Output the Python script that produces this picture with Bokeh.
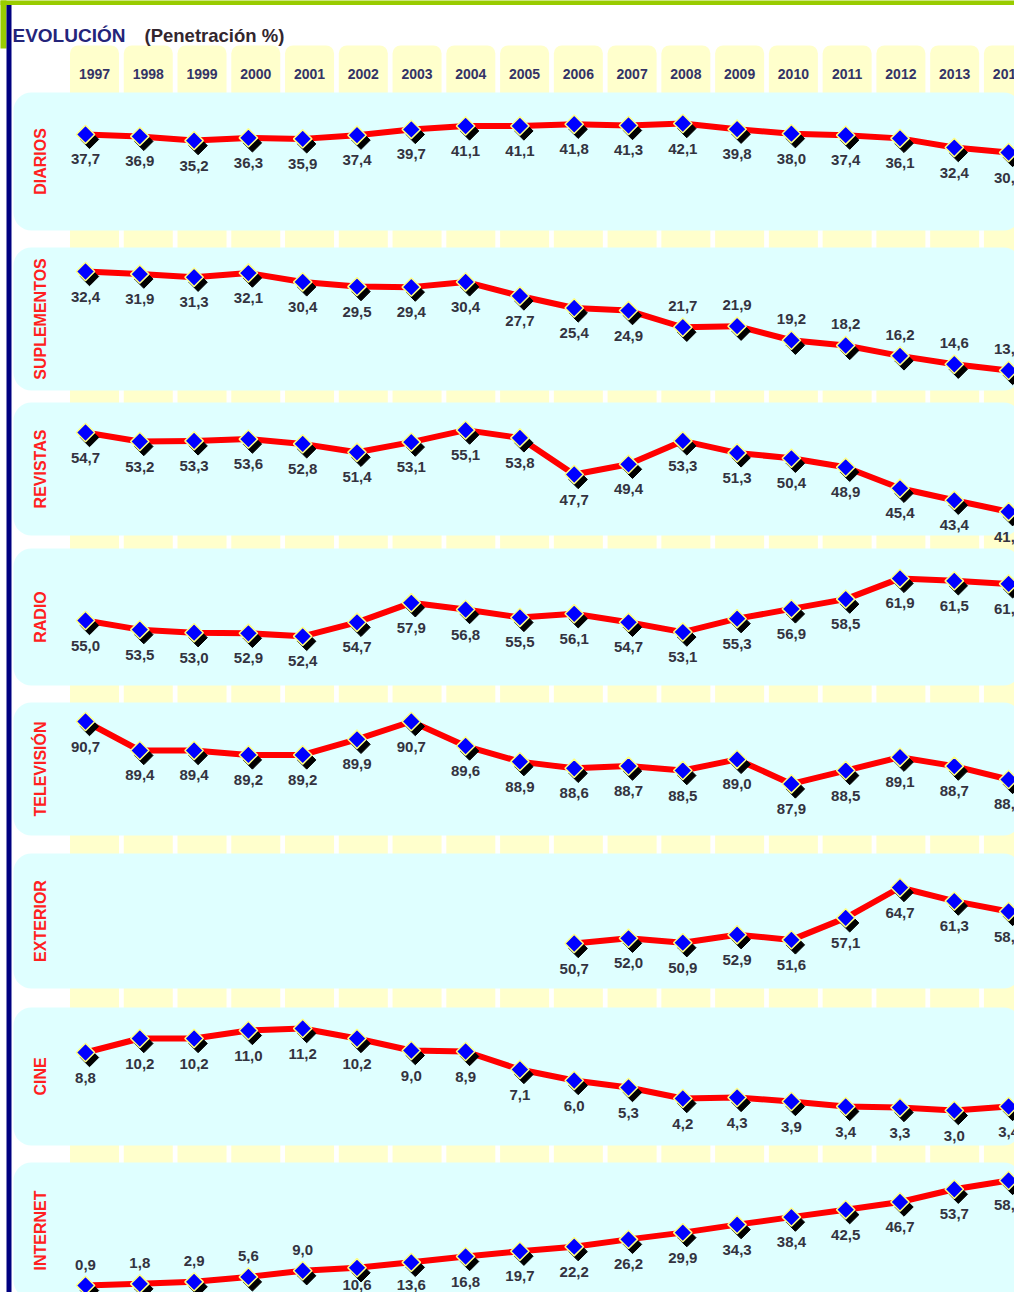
import math
from bokeh.plotting import figure
from bokeh.models import Range1d, BoxAnnotation, ColumnDataSource
from bokeh.core.properties import value
from bokeh.transform import dodge
from bokeh.embed import file_html
from bokeh.resources import INLINE

# ---------------- data ----------------
years = list(range(1997, 2015))
year_labels = [str(y) for y in years]

categories = ["DIARIOS", "SUPLEMENTOS", "REVISTAS", "RADIO",
              "TELEVISIÓN", "EXTERIOR", "CINE", "INTERNET"]

diarios = [37.7, 36.9, 35.2, 36.3, 35.9, 37.4, 39.7, 41.1, 41.1, 41.8, 41.3, 42.1, 39.8, 38.0, 37.4, 36.1, 32.4, 30.4]
suplementos = [32.4, 31.9, 31.3, 32.1, 30.4, 29.5, 29.4, 30.4, 27.7, 25.4, 24.9, 21.7, 21.9, 19.2, 18.2, 16.2, 14.6, 13.4]
revistas = [54.7, 53.2, 53.3, 53.6, 52.8, 51.4, 53.1, 55.1, 53.8, 47.7, 49.4, 53.3, 51.3, 50.4, 48.9, 45.4, 43.4, 41.5]
radio = [55.0, 53.5, 53.0, 52.9, 52.4, 54.7, 57.9, 56.8, 55.5, 56.1, 54.7, 53.1, 55.3, 56.9, 58.5, 61.9, 61.5, 61.0]
television = [90.7, 89.4, 89.4, 89.2, 89.2, 89.9, 90.7, 89.6, 88.9, 88.6, 88.7, 88.5, 89.0, 87.9, 88.5, 89.1, 88.7, 88.1]
exterior = [None, None, None, None, None, None, None, None, None, 50.7, 52.0, 50.9, 52.9, 51.6, 57.1, 64.7, 61.3, 58.7]
cine = [8.8, 10.2, 10.2, 11.0, 11.2, 10.2, 9.0, 8.9, 7.1, 6.0, 5.3, 4.2, 4.3, 3.9, 3.4, 3.3, 3.0, 3.4]
internet = [0.9, 1.8, 2.9, 5.6, 9.0, 10.6, 13.6, 16.8, 19.7, 22.2, 26.2, 29.9, 34.3, 38.4, 42.5, 46.7, 53.7, 58.5]

series = [diarios, suplementos, revistas, radio, television, exterior, cine, internet]

# ---------------- layout / style ----------------
W, H = 1014, 1292
PT0, PT_STEP = 85.0, 54.3  # px of first point, px per year
COL0, COL_STEP = 94.0, 53.76
x0 = 1997 - PT0 / PT_STEP
x1 = x0 + W / PT_STEP


def xpx(sx):
    return x0 + sx / PT_STEP


# panel: top, bottom (px), scale anchor value, anchor px y, px per unit
panel_cfg = [
    (92, 230, 42.1, 123, 2.48),
    (247, 390, 32.4, 271, 5.21),
    (402, 535, 54.7, 432, 6.0),
    (548, 685, 55.0, 620, 6.1),
    (702, 835, 90.7, 721, 22.3),
    (853, 988, 50.7, 943, 4.0),
    (1007, 1145, 8.8, 1052, 10.0),
    (1162, 1298, 0.9, 1285, 1.823),
]
labels_above = {
    "SUPLEMENTOS": lambda yr: yr >= 2008,
    "INTERNET": lambda yr: yr <= 2001,
}
FONT = value("Liberation Sans")

p = figure(width=W, height=H, x_range=Range1d(x0, x1), y_range=Range1d(H, 0),
           x_axis_type=None, y_axis_type=None, output_backend="svg",
           toolbar_location=None, min_border=0, outline_line_color=None,
           background_fill_color="white", border_fill_color="white")
p.grid.visible = False


def box(**kw):
    b = BoxAnnotation(fill_alpha=1, line_color=None, level="underlay", **kw)
    p.add_layout(b)


# green top bar / corner block and navy left rule
box(left=xpx(-20), right=xpx(1060), top=-5, bottom=4.5, fill_color="#99cc00")
box(left=xpx(-20), right=xpx(6), top=-5, bottom=48, fill_color="#99cc00")
box(left=xpx(6), right=xpx(11), top=4.5, bottom=1320, fill_color="#000080")

# yellow year columns
col_x = []
for k, yr in enumerate(years):
    cx = COL0 + COL_STEP * k
    col_x.append(xpx(cx))
    box(left=xpx(cx - 24.5), right=xpx(cx + 24.5), top=45, bottom=1340,
        fill_color="#ffffcc", border_radius=8)

# light cyan panels
for (top, bot, av, ay, kpx) in panel_cfg:
    box(left=xpx(13), right=xpx(1021), top=top, bottom=bot,
        fill_color="#dfffff", border_radius=18)

# header texts
p.text(x=[xpx(12)], y=[35], text=["EVOLUCIÓN"], text_align="left", text_baseline="middle",
       text_font=FONT, text_font_style="bold", text_font_size="19px", text_color="#24247a")
p.text(x=[xpx(144)], y=[35], text=["(Penetración %)"], text_align="left", text_baseline="middle",
       text_font=FONT, text_font_style="bold", text_font_size="18.5px", text_color="#33262e")

# year labels
p.text(x=col_x, y=[73] * len(years), text=year_labels, text_align="center",
       text_baseline="middle", text_font=FONT, text_font_style="bold",
       text_font_size="14px", text_color="#333366")

# category labels
p.text(x=[xpx(40)] * len(categories), y=[(c[0] + min(c[1], 1300)) / 2 for c in panel_cfg],
       text=categories, angle=math.pi / 2, text_align="center", text_baseline="middle",
       text_font=FONT, text_font_style="bold", text_font_size="16px", text_color="#ff2020")

# series
ranges = {}
for i, (name, vals) in enumerate(zip(categories, series)):
    top, bot, av, ay, kpx = panel_cfg[i]
    ranges[f"r{i}"] = Range1d(av - (H - ay) / kpx, av + ay / kpx)
p.extra_y_ranges = ranges

for i, (name, vals) in enumerate(zip(categories, series)):
    top, bot, av, ay, kpx = panel_cfg[i]
    rn = f"r{i}"
    xs, ys, labs, offs = [], [], [], []
    above = labels_above.get(name, lambda yr: False)
    for yr, v in zip(years, vals):
        if v is None:
            continue
        xs.append(yr)
        ys.append(v)
        labs.append(f"{v:.1f}".replace(".", ","))
        sy = ay - kpx * (v - av)
        off = -21 if above(yr) else 25
        off = min(off, 1284 - sy)
        offs.append(off)
    src = ColumnDataSource(dict(x=xs, y=ys, lab=labs, yoff=offs))
    p.line("x", "y", source=src, y_range_name=rn, line_color="#ff0000",
           line_width=6, line_join="round")
    p.scatter(x=dodge("x", 4 / PT_STEP), y=dodge("y", -5 / kpx), source=src,
              y_range_name=rn, marker="square", angle=math.pi / 4, size=13,
              fill_color="black", line_color="black", line_width=1)
    p.scatter("x", "y", source=src, y_range_name=rn, marker="square",
              angle=math.pi / 4, size=13, fill_color="#0000ff",
              line_color="#ffff88", line_width=1.5)
    p.text("x", "y", text="lab", source=src, y_range_name=rn, y_offset="yoff",
           text_align="center", text_baseline="middle", text_font=FONT,
           text_font_style="bold", text_font_size="15px", text_color="#333340")

open("out.html", "w").write(file_html(p, INLINE))
